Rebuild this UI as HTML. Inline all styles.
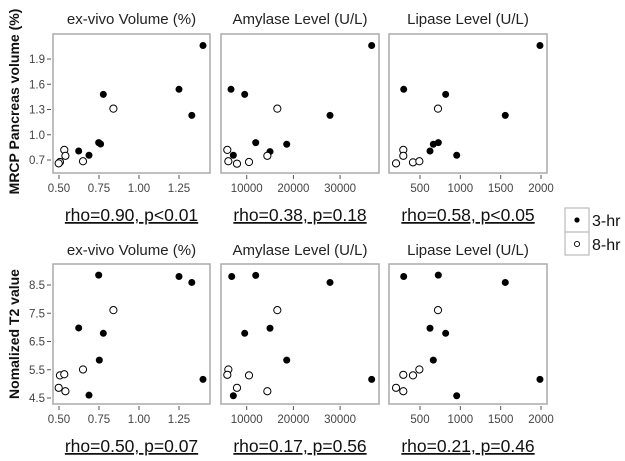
<!DOCTYPE html>
<html><head><meta charset="utf-8"><style>
body{margin:0;background:#fff;}
svg{display:block;font-family:"Liberation Sans",Arial,sans-serif;}
</style></head><body>
<svg id="chart" width="625" height="461" viewBox="0 0 625 461"></svg>
<script>
// ---- data ----
const exvivoTicks = [0.5, 0.75, 1.0, 1.25];
const exvivoTickLabels = ["0.50", "0.75", "1.00", "1.25"];
const amylaseTicks = [10000, 20000, 30000];
const amylaseTickLabels = ["10000", "20000", "30000"];
const lipaseTicks = [500, 1000, 1500, 2000];
const lipaseTickLabels = ["500", "1000", "1500", "2000"];
const mrcpTicks = [0.7, 1.0, 1.3, 1.6, 1.9];
const mrcpTickLabels = ["0.7", "1.0", "1.3", "1.6", "1.9"];
const t2Ticks = [4.5, 5.5, 6.5, 7.5, 8.5];
const t2TickLabels = ["4.5", "5.5", "6.5", "7.5", "8.5"];
const columnTitles = ["ex-vivo Volume (%)", "Amylase Level (U/L)", "Lipase Level (U/L)"];
const rowTitles = ["MRCP Pancreas volume (%)", "Nomalized T2 value"];
const statsTop = ["rho=0.90, p<0.01", "rho=0.38, p=0.18", "rho=0.58, p<0.05"];
const statsBottom = ["rho=0.50, p=0.07", "rho=0.17, p=0.56", "rho=0.21, p=0.46"];

// top row: MRCP volume
const topExvivo3x = [1.40, 1.25, 1.33, 0.777, 0.748, 0.76, 0.623, 0.6875];
const topExvivo3y = [2.06, 1.54, 1.23, 1.48, 0.906, 0.89, 0.807, 0.756];
const topExvivo8x = [0.84, 0.533, 0.54, 0.65, 0.506, 0.498];
const topExvivo8y = [1.31, 0.82, 0.75, 0.685, 0.676, 0.66];
const topAmy3x = [36760, 6640, 9570, 27840, 11930, 18570, 14990, 7140];
const topAmy3y = [2.06, 1.54, 1.48, 1.23, 0.906, 0.887, 0.80, 0.756];
const topAmy8x = [16560, 5850, 6070, 7920, 10490, 14420];
const topAmy8y = [1.31, 0.82, 0.685, 0.656, 0.676, 0.75];
const topLip3x = [1987, 298, 818, 1557, 665, 727, 624, 955];
const topLip3y = [2.06, 1.54, 1.48, 1.23, 0.887, 0.906, 0.807, 0.756];
const topLip8x = [723, 293, 293, 413, 492, 203];
const topLip8y = [1.31, 0.82, 0.75, 0.672, 0.685, 0.66];
// bottom row: T2
const botExvivo3x = [0.748, 1.25, 1.33, 0.623, 0.777, 0.752, 1.40, 0.6875];
const botExvivo3y = [8.85, 8.80, 8.59, 6.98, 6.79, 5.84, 5.16, 4.60];
const botExvivo8x = [0.84, 0.65, 0.506, 0.533, 0.498, 0.54];
const botExvivo8y = [7.61, 5.51, 5.30, 5.34, 4.86, 4.74];
const botAmy3x = [6790, 11930, 27840, 14990, 9570, 18570, 36760, 7140];
const botAmy3y = [8.80, 8.84, 8.59, 6.97, 6.79, 5.84, 5.16, 4.58];
const botAmy8x = [16560, 6070, 5850, 10490, 7920, 14420];
const botAmy8y = [7.61, 5.51, 5.32, 5.30, 4.86, 4.74];
const botLip3x = [298, 727, 1557, 624, 818, 665, 1987, 955];
const botLip3y = [8.80, 8.85, 8.59, 6.97, 6.79, 5.84, 5.16, 4.58];
const botLip8x = [723, 492, 413, 293, 203, 293];
const botLip8y = [7.61, 5.51, 5.30, 5.32, 4.86, 4.74];

// ---- drawing ----
const NS = "http://www.w3.org/2000/svg";
const svg = document.getElementById("chart");
function mk(tag, attrs, parent) {
  const e = document.createElementNS(NS, tag);
  for (const k in attrs) e.setAttribute(k, attrs[k]);
  (parent || svg).appendChild(e);
  return e;
}
function lin(d0, d1, r0, r1) { return v => r0 + (v - d0) * (r1 - r0) / (d1 - d0); }

const cols = [
  {x0: 53, x1: 210, sx: lin(0.5, 1.25, 59, 179), ticks: exvivoTicks, labels: exvivoTickLabels, key: "exvivo"},
  {x0: 221, x1: 379, sx: lin(0, 10000, 200, 246.7), ticks: amylaseTicks, labels: amylaseTickLabels, key: "amylase"},
  {x0: 389, x1: 547, sx: lin(500, 2000, 420, 541), ticks: lipaseTicks, labels: lipaseTickLabels, key: "lipase"}
];
const rows = [
  {y0: 34, y1: 173, sy: lin(0.7, 1.9, 160, 59), ticks: mrcpTicks, labels: mrcpTickLabels, stats: statsTop, titleY: 24, statY: 221, key: "mrcp",
   data: [[topExvivo3x, topExvivo3y, topExvivo8x, topExvivo8y], [topAmy3x, topAmy3y, topAmy8x, topAmy8y], [topLip3x, topLip3y, topLip8x, topLip8y]]},
  {y0: 264, y1: 404, sy: lin(4.5, 8.5, 398, 285), ticks: t2Ticks, labels: t2TickLabels, stats: statsBottom, titleY: 255, statY: 452, key: "t2",
   data: [[botExvivo3x, botExvivo3y, botExvivo8x, botExvivo8y], [botAmy3x, botAmy3y, botAmy8x, botAmy8y], [botLip3x, botLip3y, botLip8x, botLip8y]]}
];

rows.forEach((r, ri) => {
  const yt = mk("text", {x: 0, y: 0, "font-size": 14, "font-weight": "bold", fill: "#111", "text-anchor": "middle",
    transform: `translate(19,${(r.y0 + r.y1) / 2 + (ri === 0 ? -2 : 0)}) rotate(-90)`});
  
  
  yt.textContent = rowTitles[ri];
  r.ticks.forEach((t, i) => {
    const y = r.sy(t);
    const tl = mk("line", {x1: 47, x2: 51, y1: y, y2: y, stroke: "#555", "stroke-width": 1});
    
    
    const tx = mk("text", {x: 45, y: y + 4, "font-size": 11.5, fill: "#444", "text-anchor": "end"});
    
    
    tx.textContent = r.labels[i];
  });
  cols.forEach((c, ci) => {
    const g = mk("g", {});
    
    
    const title = mk("text", {x: (c.x0 + c.x1) / 2, y: r.titleY, "font-size": 15, fill: "#222", "text-anchor": "middle"}, g);
    
    
    title.textContent = columnTitles[ci];
    const box = mk("rect", {x: c.x0, y: r.y0, width: c.x1 - c.x0, height: r.y1 - r.y0, fill: "none", stroke: "#aaa", "stroke-width": 1.5}, g);
    
    
    c.ticks.forEach((t, i) => {
      const x = c.sx(t);
      const tl = mk("line", {x1: x, x2: x, y1: r.y1 + 2, y2: r.y1 + 6, stroke: "#555", "stroke-width": 1}, g);
      
      
      const tx = mk("text", {x: x, y: r.y1 + 19, "font-size": 11.5, fill: "#444", "text-anchor": "middle"}, g);
      
      
      tx.textContent = c.labels[i];
    });
    const d = r.data[ci];
    d[0].forEach((xv, i) => {
      const p = mk("circle", {cx: c.sx(xv), cy: r.sy(d[1][i]), r: 3.5, fill: "#000"}, g);
      
      
    });
    d[2].forEach((xv, i) => {
      const p = mk("circle", {cx: c.sx(xv), cy: r.sy(d[3][i]), r: 3.6, fill: "#fff", stroke: "#000", "stroke-width": 1}, g);
      
      
    });
    const st = mk("text", {x: (c.x0 + c.x1) / 2, y: r.statY, "font-size": 17.5, fill: "#111", "text-anchor": "middle", "text-decoration": "underline"}, g);
    
    
    st.textContent = r.stats[ci];
  });
});

// legend
const lg = mk("g", {});


const lb = mk("rect", {x: 565, y: 208, width: 24, height: 47, fill: "#fff", stroke: "#bbb", "stroke-width": 1.2}, lg);


const ld = mk("line", {x1: 565, x2: 589, y1: 232, y2: 232, stroke: "#bbb", "stroke-width": 1.2}, lg);


const l1 = mk("circle", {cx: 577, cy: 220, r: 2.6, fill: "#000"}, lg);


const l2 = mk("circle", {cx: 577, cy: 244, r: 2.6, fill: "#fff", stroke: "#000", "stroke-width": 0.9}, lg);


const t1 = mk("text", {x: 592, y: 226, "font-size": 16, fill: "#111"}, lg);


t1.textContent = "3-hr";
const t2 = mk("text", {x: 592, y: 250, "font-size": 16, fill: "#111"}, lg);


t2.textContent = "8-hr";
</script>
</body></html>
